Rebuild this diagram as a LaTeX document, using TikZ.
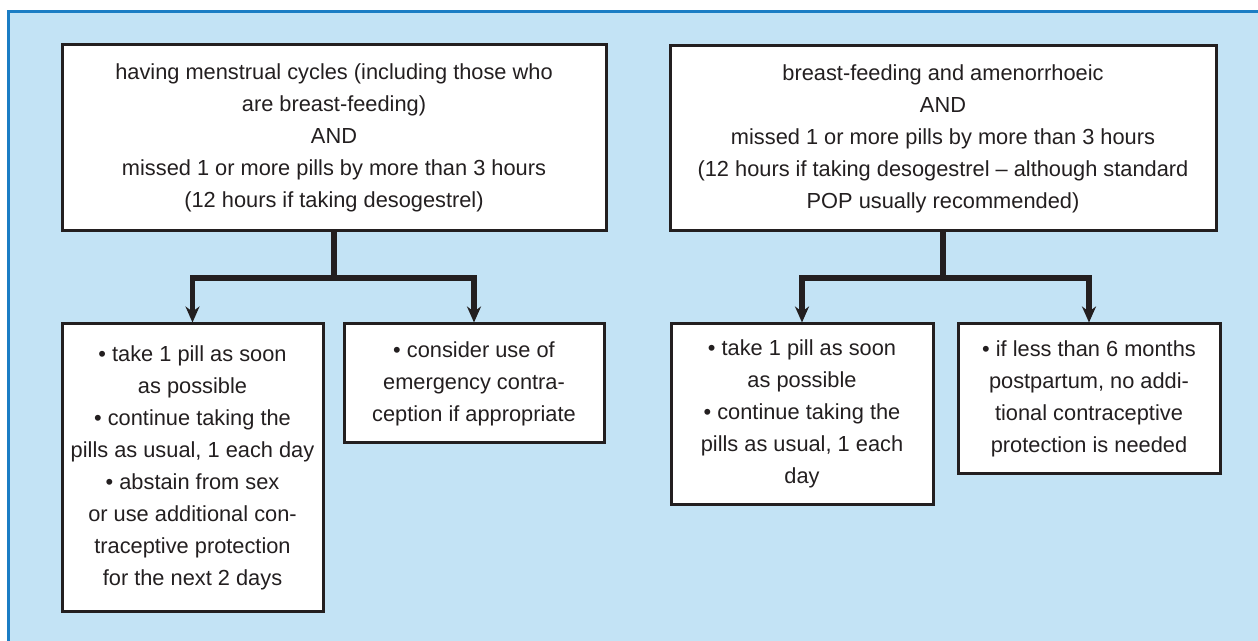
\documentclass[tikz,border=0pt]{standalone}
\usepackage{fontspec}
\setmainfont{Liberation Sans}
\usetikzlibrary{arrows.meta}
\definecolor{panelblue}{HTML}{C3E3F5}
\definecolor{edgeblue}{HTML}{1B7DC4}
\definecolor{ink}{HTML}{231F20}
\tikzstyle{box} = [rectangle, draw=ink, line width=1.5pt, fill=white, align=center, inner sep=0pt, text=ink, font=\fontsize{10.9}{16}\selectfont]
\tikzstyle{arrow} = [line width=2.6pt, draw=ink, -{Stealth[length=8pt,width=7pt]}]
\tikzstyle{stem} = [line width=2.6pt, draw=ink]

\begin{document}
\begin{tikzpicture}[x=0.5pt, y=-0.5pt]
        \useasboundingbox (0,0) rectangle (1258,641);
        \fill [panelblue] (8.5,11.5) rectangle (1258,641);
        \draw [edgeblue, line width=1.5pt] (8.5,641) -- (8.5,11.5) -- (1258,11.5);

        \node (cycles) [box, minimum width=272pt, minimum height=93pt] at (334,138) {having menstrual cycles (including those who\\are breast-feeding)\\AND\\missed 1 or more pills by more than 3 hours\\(12 hours if taking desogestrel)};
        \node (amen) [box, minimum width=273pt, minimum height=92.5pt] at (943,138.5) {breast-feeding and amenorrhoeic\\AND\\missed 1 or more pills by more than 3 hours\\(12 hours if taking desogestrel – although standard\\POP usually recommended)};

        \node (takeA) [box, minimum width=130.5pt, minimum height=143.5pt] at (192.5,467.5) {• take 1 pill as soon\\as possible\\• continue taking the\\pills as usual, 1 each day\\• abstain from sex\\or use additional con-\\traceptive protection\\for the next 2 days};
        \node (emerg) [box, minimum width=130pt, minimum height=59.5pt] at (474,383.5) {• consider use of\\emergency contra-\\ception if appropriate};
        \node (takeB) [box, minimum width=131pt, minimum height=90pt] at (802,414) {• take 1 pill as soon\\as possible\\• continue taking the\\pills as usual, 1 each\\day};
        \node (postp) [box, minimum width=131pt, minimum height=74.5pt] at (1089,398.5) {• if less than 6 months\\postpartum, no addi-\\tional contraceptive\\protection is needed};

        \coordinate (splitA) at (334,278);
        \coordinate (splitB) at (943,278);

        \draw [stem] (cycles.south) -- (splitA);
        \draw [arrow] (splitA) -| (takeA.north);
        \draw [arrow] (splitA) -| (emerg.north);

        \draw [stem] (amen.south) -- (splitB);
        \draw [arrow] (splitB) -| (takeB.north);
        \draw [arrow] (splitB) -| (postp.north);
\end{tikzpicture}
\end{document}
